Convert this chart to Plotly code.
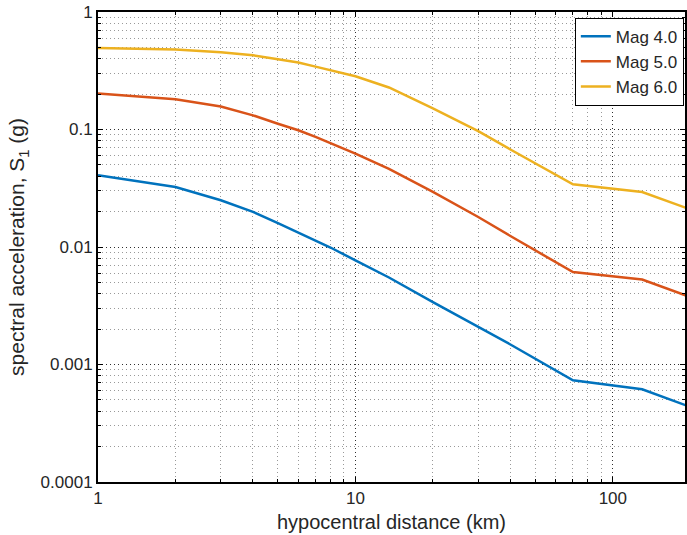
import plotly.graph_objects as go
import numpy as np

distance_km = [1, 2, 3, 4, 5, 6, 7, 8, 10, 13.5, 20, 30, 40, 70, 130, 200]
mag4 = [0.0408, 0.0324, 0.0250, 0.0199, 0.0160, 0.0133, 0.0114, 0.0099, 0.0077, 0.0055, 0.0034, 0.00211, 0.00148, 0.000734, 0.000615, 0.000435]
mag5 = [0.202, 0.181, 0.157, 0.132, 0.112, 0.0985, 0.0865, 0.0766, 0.0623, 0.0462, 0.0294, 0.0180, 0.0124, 0.00612, 0.00528, 0.00375]
mag6 = [0.494, 0.479, 0.454, 0.428, 0.396, 0.371, 0.343, 0.320, 0.284, 0.228, 0.151, 0.097, 0.0676, 0.0342, 0.0294, 0.0209]
series_names = ["Mag 4.0", "Mag 5.0", "Mag 6.0"]
series_colors = ["#0072BD", "#D95319", "#EDB120"]

x_tickvals = [1, 10, 100]
x_ticktext = ["1", "10", "100"]
y_tickvals = [0.0001, 0.001, 0.01, 0.1, 1]
y_ticktext = ["0.0001", "0.001", "0.01", "0.1", "1"]

fig = go.Figure()
for name, ys, col in zip(series_names, [mag4, mag5, mag6], series_colors):
    fig.add_trace(go.Scatter(x=distance_km, y=ys, mode="lines", name=name,
                             line=dict(color=col, width=2.5)))

font_family = "Liberation Sans, Arial, sans-serif"
txt = "#262626"

axis_common = dict(
    type="log",
    showline=True, linecolor="#000000", linewidth=2, mirror="allticks",
    ticks="inside", ticklen=5, tickcolor="#000000", tickwidth=1,
    showgrid=True, gridcolor="rgba(0,0,0,0.7)", gridwidth=1, griddash="1px,3px",
    zeroline=False,
    tickfont=dict(family=font_family, size=17, color=txt),
    minor=dict(ticks="inside", ticklen=3, tickcolor="#000000", showgrid=True,
               gridcolor="rgba(0,0,0,0.4)", gridwidth=1, griddash="1px,3px", dtick="D1"),
)

fig.update_layout(
    width=687, height=535,
    margin=dict(l=97.5, r=0, t=11.7, b=53.3),
    paper_bgcolor="white", plot_bgcolor="white",
    font=dict(family=font_family, color=txt),
    showlegend=True,
    legend=dict(x=0.998, y=0.988, xanchor="right", yanchor="top",
                bgcolor="white", bordercolor="#000000", borderwidth=1,
                font=dict(family=font_family, size=17, color=txt),
                tracegroupgap=0, itemwidth=30),
    xaxis=dict(axis_common, range=[0, np.log10(190.7)],
               tickvals=x_tickvals, ticktext=x_ticktext,
               title=dict(text="hypocentral distance (km)", font=dict(family=font_family, size=20, color=txt), standoff=8)),
    yaxis=dict(axis_common, range=[-4, 0],
               tickvals=y_tickvals, ticktext=y_ticktext,
               title=dict(text="spectral acceleration, S<sub>1</sub> (g)", font=dict(family=font_family, size=21, color=txt), standoff=10)),
)

fig.write_html("out.html", config={"displayModeBar": False},
               post_script="document.body.style.margin='0';document.body.style.overflow='hidden';")
